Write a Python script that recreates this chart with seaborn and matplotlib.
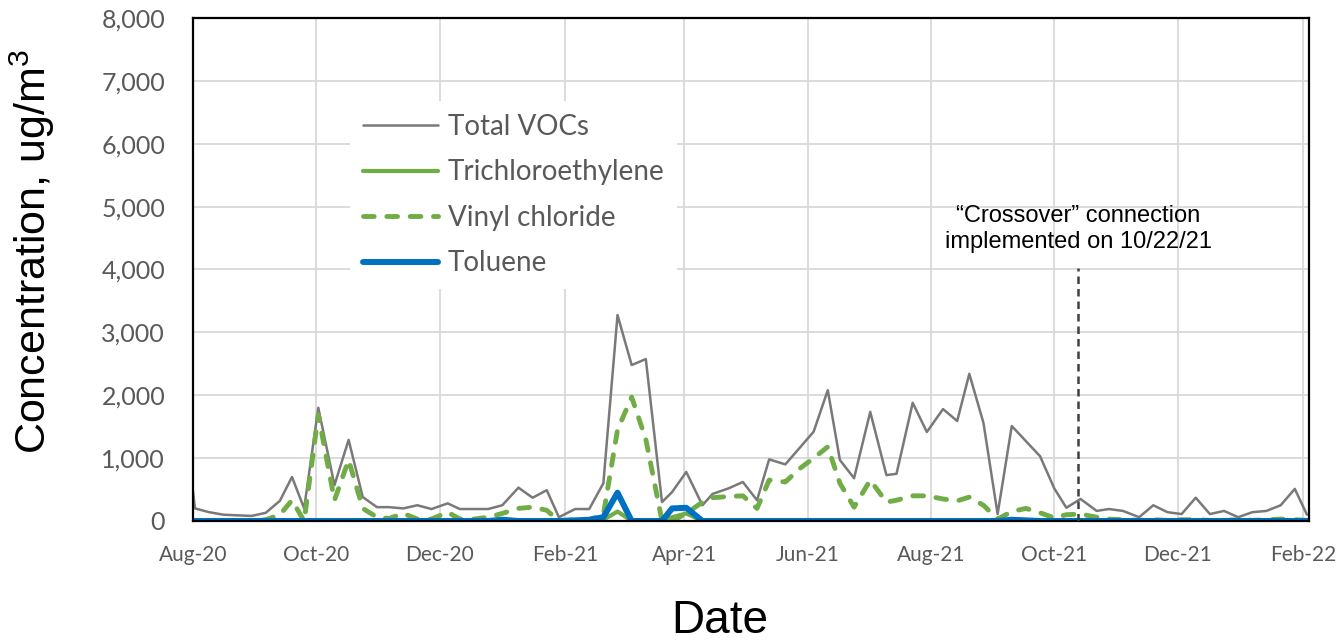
import matplotlib
matplotlib.use("Agg")
import matplotlib.pyplot as plt
import matplotlib.dates as mdates
from matplotlib.ticker import FuncFormatter
import seaborn as sns
import pandas as pd

# ---------------- data ----------------
dates = [
    "2020-08-01", "2020-08-02", "2020-08-09", "2020-08-16", "2020-08-23", "2020-08-30", "2020-09-06", "2020-09-13", "2020-09-19", "2020-09-25",
    "2020-10-02", "2020-10-10", "2020-10-17", "2020-10-24", "2020-10-31", "2020-11-06", "2020-11-13", "2020-11-20", "2020-11-27", "2020-12-05",
    "2020-12-11", "2020-12-18", "2020-12-25", "2021-01-01", "2021-01-09", "2021-01-16", "2021-01-23", "2021-01-29", "2021-02-06", "2021-02-13",
    "2021-02-20", "2021-02-27", "2021-03-06", "2021-03-13", "2021-03-21", "2021-03-26", "2021-04-02", "2021-04-10", "2021-04-15", "2021-04-23",
    "2021-04-30", "2021-05-07", "2021-05-13", "2021-05-21", "2021-05-28", "2021-06-04", "2021-06-11", "2021-06-17", "2021-06-24", "2021-07-02",
    "2021-07-10", "2021-07-15", "2021-07-23", "2021-07-30", "2021-08-07", "2021-08-14", "2021-08-20", "2021-08-27", "2021-09-03", "2021-09-10",
    "2021-09-17", "2021-09-24", "2021-10-01", "2021-10-07", "2021-10-14", "2021-10-22", "2021-10-28", "2021-11-04", "2021-11-12", "2021-11-19",
    "2021-11-26", "2021-12-03", "2021-12-10", "2021-12-17", "2021-12-24", "2021-12-31", "2022-01-07", "2022-01-14", "2022-01-21", "2022-01-28",
    "2022-02-03",
]

total_vocs = [
    480, 200, 140, 100, 90, 80, 130, 320, 700, 200,
    1800, 570, 1290, 380, 220, 220, 200, 250, 190, 280,
    190, 190, 190, 250, 530, 370, 490, 60, 190, 190,
    600, 3275, 2480, 2575, 300, 460, 780, 250, 430, 520,
    620, 330, 980, 900, 1160, 1420, 2080, 970, 680, 1735,
    730, 750, 1880, 1415, 1780, 1590, 2340, 1560, 110, 1510,
    1270, 1030, 520, 210, 350, 160, 190, 160, 60, 250,
    140, 110, 370, 110, 160, 60, 140, 160, 250, 510,
    100,
]

trichloroethylene = [
    0, 0, 0, 0, 0, 0, 0, 0, 0, 0,
    0, 0, 0, 0, 0, 0, 0, 0, 0, 0,
    0, 0, 0, 0, 0, 0, 0, 0, 0, 0,
    20, 150, 0, 0, 0, 60, 120, 0, 0, 0,
    0, 0, 0, 0, 0, 0, 0, 0, 0, 0,
    0, 0, 0, 0, 0, 0, 0, 0, 0, 0,
    0, 0, 0, 0, 0, 0, 0, 0, 0, 0,
    0, 0, 0, 0, 0, 0, 0, 0, 0, 0,
    0,
]

vinyl_chloride = [
    0, 0, 0, 0, 0, 0, 20, 100, 330, 0,
    1690, 330, 970, 200, 60, 40, 120, 30, 30, 140,
    30, 30, 60, 120, 200, 220, 170, 0, 20, 20,
    100, 1450, 1970, 1300, 0, 0, 120, 300, 370, 390,
    400, 200, 650, 620, 830, 1000, 1180, 600, 220, 650,
    300, 330, 400, 400, 350, 320, 380, 250, 30, 150,
    200, 130, 50, 100, 110, 60, 30, 20, 10, 20,
    10, 20, 20, 10, 10, 20, 10, 20, 30, 20,
    10,
]

toluene = [
    0, 0, 0, 0, 0, 0, 0, 0, 0, 0,
    0, 0, 0, 0, 0, 0, 0, 0, 0, 0,
    0, 0, 0, 20, 0, 0, 0, 0, 10, 20,
    60, 450, 0, 0, 0, 200, 210, 0, 0, 0,
    0, 0, 0, 0, 0, 0, 0, 0, 0, 0,
    0, 0, 0, 0, 0, 0, 0, 0, 0, 20,
    10, 0, 0, 0, 0, 0, 0, 0, 0, 0,
    0, 0, 0, 0, 0, 0, 0, 0, 0, 0,
    0,
]

series_names = ["Total VOCs", "Trichloroethylene", "Vinyl chloride", "Toluene"]
y_ticks = [0, 1000, 2000, 3000, 4000, 5000, 6000, 7000, 8000]
x_start, x_end = "2020-08-01", "2022-02-04"
crossover_date = "2021-10-13"
crossover_top = 4020
crossover_text = "\u201cCrossover\u201d connection\nimplemented on 10/22/21"
annot_y = 4640

df = pd.DataFrame({
    "Date": pd.to_datetime(dates),
    "Total VOCs": total_vocs,
    "Trichloroethylene": trichloroethylene,
    "Vinyl chloride": vinyl_chloride,
    "Toluene": toluene,
})

# ---------------- style ----------------
sns.set_theme(style="white")
plt.rcParams["font.family"] = ["Liberation Sans", "DejaVu Sans"]
plt.rcParams["mathtext.fontset"] = "custom"
plt.rcParams["mathtext.rm"] = "Liberation Sans"
plt.rcParams["mathtext.it"] = "Liberation Sans:italic"

fig = plt.figure(figsize=(13.38, 6.42), dpi=100)
ax = fig.add_axes([0.1442, 0.1885, 0.8341, 0.7835])

styles = {
    "Total VOCs": dict(color="#7a7878", linewidth=1.8),
    "Trichloroethylene": dict(color="#70ad47", linewidth=3.0),
    "Vinyl chloride": dict(color="#70ad47", linewidth=3.5),
    "Toluene": dict(color="#0070c0", linewidth=4.3),
}

for name in series_names:
    sns.lineplot(data=df, x="Date", y=name, ax=ax, label=name,
                 estimator=None, **styles[name])
    line = ax.lines[-1]
    line.set_solid_capstyle("round")
    if name == "Vinyl chloride":
        line.set_dashes((2.2, 2.6))
        line.set_dash_capstyle("round")

ax.vlines(pd.to_datetime(crossover_date), 0, crossover_top, colors="#404040",
          linestyles=(0, (3, 2)), linewidth=1.8, zorder=5)
ax.text(pd.to_datetime(crossover_date), annot_y, crossover_text, ha="center",
        va="center", fontsize=17, color="black", linespacing=1.25,
        family=["Liberation Sans", "DejaVu Sans"])

ax.set_xlim(pd.to_datetime(x_start), pd.to_datetime(x_end))
ax.set_ylim(y_ticks[0], y_ticks[-1])
ax.set_yticks(y_ticks)
ax.yaxis.set_major_formatter(FuncFormatter(lambda v, p: f"{int(v):,}"))
ax.xaxis.set_major_locator(mdates.MonthLocator(bymonth=[2, 4, 6, 8, 10, 12]))
ax.xaxis.set_major_formatter(mdates.DateFormatter("%b-%y"))

ax.grid(True, color="#d9d9d9", linewidth=1.3)
ax.set_axisbelow(True)
for s in ax.spines.values():
    s.set_visible(True)
    s.set_color("black")
    s.set_linewidth(1.6)

ax.tick_params(axis="y", length=0, pad=20, labelsize=18, labelcolor="#595959")
ax.tick_params(axis="x", length=5, width=1.6, color="black", direction="out",
               pad=12, labelsize=15, labelcolor="#595959")
for lab in ax.get_xticklabels() + ax.get_yticklabels():
    lab.set_family(["Lato", "DejaVu Sans"])

ax.set_xlabel("Date", fontsize=33, color="black")
ax.set_ylabel("Concentration, ug/m$^{\\mathrm{3}}$", fontsize=31, color="black")
ax.xaxis.set_label_coords(0.472, -0.156)
ax.yaxis.set_label_coords(-0.122, 0.536)

leg = ax.legend(loc="upper left", bbox_to_anchor=(0.141, 0.834), frameon=True,
                fancybox=False, framealpha=1, edgecolor="none", facecolor="white",
                prop={"family": ["Lato", "DejaVu Sans"], "size": 20},
                handlelength=2.7, handletextpad=0.35, labelspacing=0.7,
                borderpad=0.45, borderaxespad=0)
for t in leg.get_texts():
    t.set_color("#595959")

fig.savefig("out.png", dpi=100)
